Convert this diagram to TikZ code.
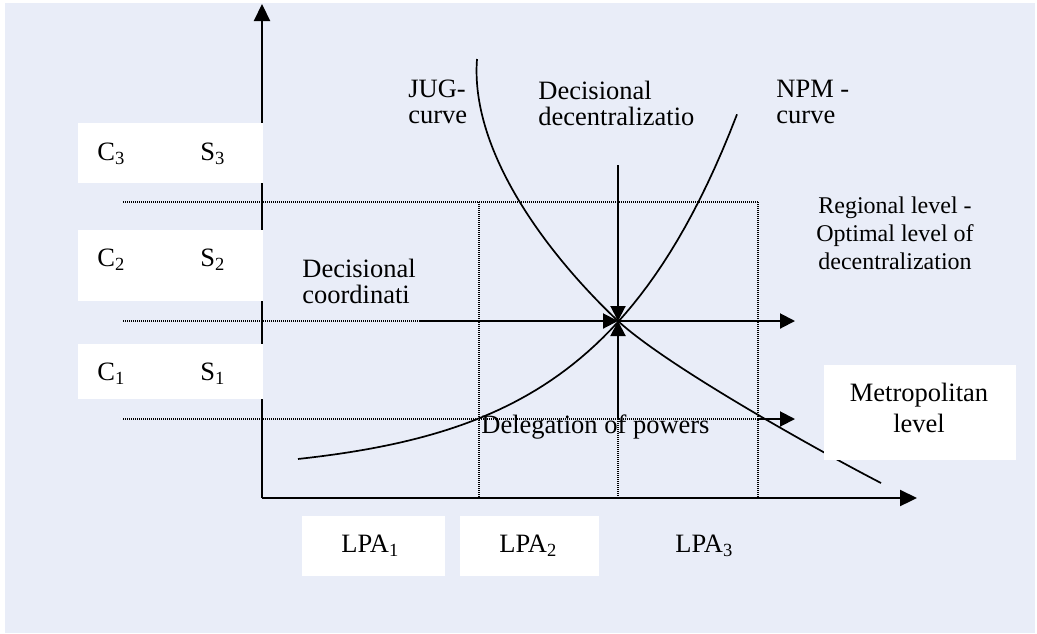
\documentclass[tikz,border=0pt]{standalone}
\usepackage{fontspec}
\setmainfont{Liberation Serif}
\usepackage{tikz}
\usetikzlibrary{arrows.meta}
\usetikzlibrary{positioning}
\definecolor{bgblue}{RGB}{233,237,248}

\begin{document}
\begin{tikzpicture}[x=0.5pt, y=-0.5pt]
\tikzstyle{lab}=[inner sep=0pt, align=left, font=\fontsize{13.25}{13}\selectfont];
\tikzstyle{dots}=[line width=0.6pt, dash pattern=on 0.5pt off 0.5pt];
\tikzstyle{arr}=[line width=1pt, -{Triangle[length=7.5pt, width=7.5pt]}];
\tikzstyle{axis}=[line width=1.1pt, -{Triangle[length=8.5pt, width=8pt]}];
\tikzstyle{crv}=[line width=0.85pt];
\useasboundingbox (0,0) rectangle (1037,633);
\fill[bgblue] (5,3) rectangle (1035,633);
%axes
\coordinate (O) at (262,498);
\coordinate (ytop) at (262,4);
\coordinate (xend) at (917,498);
\coordinate (E) at (618,321);
\coordinate (top) at (618,165);
\coordinate (bot) at (618,419);
\coordinate (left) at (419,321);
\coordinate (right) at (795,321);
\coordinate (low) at (758,419);
\coordinate (lowend) at (795,419);
\coordinate (jugA) at (477,59);
\coordinate (jugB) at (881,483);
%grid
\foreach \y in {202,419}
{\draw[dots] (123,\y) -- (758,\y);}
\draw[dots] (123,321) -- (left);
\foreach \x in {479,758}
{\draw[dots] (\x,202) -- (\x,498);}
\draw[dots] (bot) -- (618,498);
\draw[axis] (O) -- (ytop);
\draw[axis] (O) -- (xend);
%curves
\draw[crv] (jugA) .. controls (470,150) and (545,252) .. (E)
  .. controls (668,367) and (821,452) .. (jugB);
\draw[crv, domain=298:737, samples=60] plot (\x, {474-15.03*exp(0.00724*(\x-298))});
\draw[arr] (left) -- (E);
\draw[arr] (top) -- (E);
\draw[arr] (bot) -- (E);
\draw[arr] (E) -- (right);
\draw[arr] (low) -- (lowend);
%boxes
\foreach \a/\b in {123/183, 230/301, 344/399}
{\fill[white] (78,\a) rectangle (263,\b);}
\fill[white] (302,516) rectangle (445,576);
\fill[white] (460,516) rectangle (599,576);
\fill[white] (824,365) rectangle (1016,460);
\node[lab, anchor=base west] (c3) at (97,160) {C\textsubscript{3}};
\node[lab, anchor=base west] (s3) at (200,160) {S\textsubscript{3}};
\node[lab, anchor=base west] (c2) at (97,266) {C\textsubscript{2}};
\node[lab, anchor=base west] (s2) at (200,266) {S\textsubscript{2}};
\node[lab, anchor=base west] (c1) at (97,380) {C\textsubscript{1}};
\node[lab, anchor=base west] (s1) at (200,380) {S\textsubscript{1}};
\node[lab, anchor=base west] (lpa1) at (341,552) {LPA\textsubscript{1}};
\node[lab, anchor=base west] (lpa2) at (499,552) {LPA\textsubscript{2}};
\node[lab, anchor=base west] (lpa3) at (675,552) {LPA\textsubscript{3}};
\node[lab, anchor=base west] (jug) at (408,123) {JUG-\\curve};
\node[lab, anchor=base west] (dec) at (538,125) {Decisional\\decentralizatio};
\node[lab, anchor=base west] (npm) at (776,123) {NPM -\\curve};
\node[lab, anchor=base west] (coord) at (302,303) {Decisional\\coordinati};
\node[lab, anchor=base west] (deleg) at (481,433) {Delegation of powers};
\node[lab, anchor=base, align=center, font=\fontsize{12}{14}\selectfont] (reg) at (895,269) {Regional level -\\Optimal level of\\decentralization};
\node[lab, anchor=base, align=center, font=\fontsize{13.25}{15.5}\selectfont] (metro) at (919,432) {Metropolitan\\level};
\end{tikzpicture}
\end{document}
